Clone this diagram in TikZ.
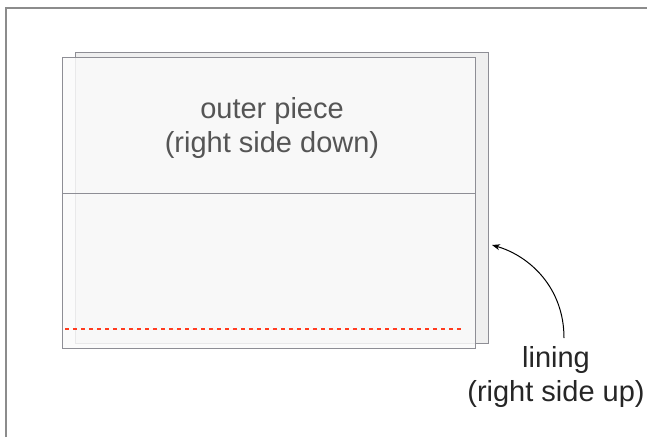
\documentclass[tikz,border=0pt]{standalone}
\usepackage{fontspec}
\setmainfont{Liberation Sans}
\usetikzlibrary{arrows.meta}

\definecolor{framegray}{HTML}{8C8C8C}
\definecolor{edgegray}{HTML}{8E8E95}
\definecolor{liningfill}{HTML}{EFEFEF}
\definecolor{piecefill}{HTML}{FAFAFA}
\definecolor{seamred}{HTML}{FF3B1F}
\definecolor{textgray}{HTML}{555555}

\tikzset{
    piece/.style={draw=edgegray, line width=1pt},
    label/.style={font=\fontsize{29}{34}\selectfont, align=center, inner sep=0pt},
}

\begin{document}
\begin{tikzpicture}[x=1pt, y=-1pt]
        \useasboundingbox (0,0) rectangle (647,437);
        \draw[framegray, line width=2pt] (6,437) -- (6,8) -- (647,8);
        % lining underneath
        \draw[piece, fill=liningfill] (75,52) coordinate (l1) rectangle (488,343) coordinate (l2);
        % outer piece on top
        \draw[piece, fill=piecefill, fill opacity=0.85] (62,57) coordinate (o1) rectangle (475,348) coordinate (o2);
        \draw[piece] (o1 |- 0,193) -- (o2 |- 0,193);
        \draw[seamred, line width=2pt, dash pattern=on 4pt off 4pt] (65,329) -- (462,329);
        \node[label, text=textgray, anchor=north] (outer) at (272,97) {outer piece\\(right side down)};
        \node[label, text=black!85, anchor=north] (lining) at (556,346) {lining\\(right side up)};
        \coordinate (tip) at (492,245);
        \draw[-{Stealth[length=8pt, width=6pt]}, line width=1pt]
            ([xshift=8pt, yshift=8pt]lining.north) .. controls +(0,-50) and (530,256) .. (tip);
    \end{tikzpicture}
\end{document}
